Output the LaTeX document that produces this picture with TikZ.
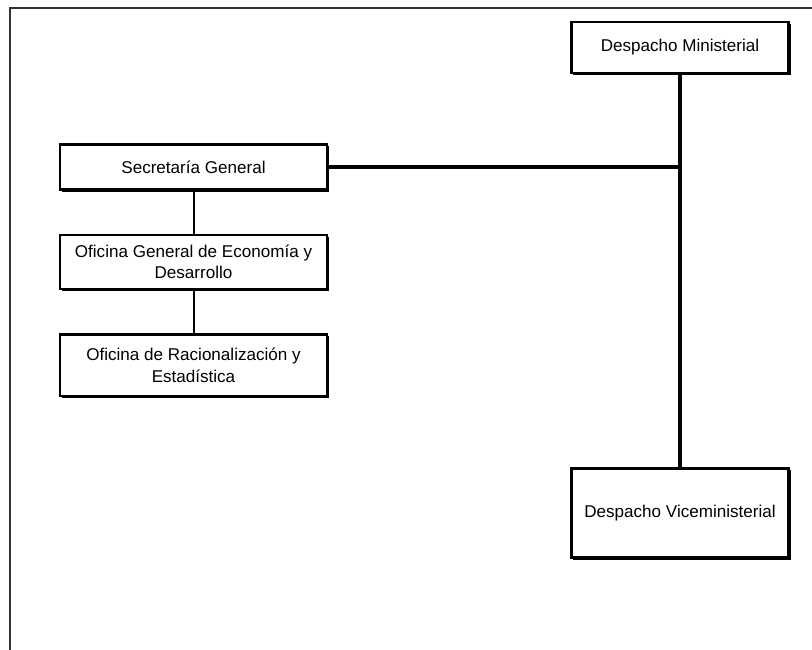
\documentclass[tikz,border=0pt]{standalone}
\usepackage{fontspec}
\setmainfont{Liberation Sans}
\usepackage{xcolor}
\usetikzlibrary{positioning,shadows}
\tikzset{
  orgbox/.style={draw=black, line width=1.8pt, fill=white, align=center, inner sep=2pt,
    font=\fontsize{12.8}{16}\selectfont,
    drop shadow={shadow xshift=1.4pt, shadow yshift=-1.4pt, fill=black, opacity=1}},
  orglink/.style={-, draw=black, line width=1.5pt},
  orgtrunk/.style={-, draw=black, line width=2.3pt},
  framerule/.style={draw=black!80, line width=1.5pt}
}

\begin{document}
\begin{tikzpicture}[x=0.75pt, y=-0.75pt, node distance=34pt]
  \useasboundingbox (0,0) rectangle (812,649);
  \draw[framerule] (10,652) -- (10,8) -- (815,8);

  \node[orgbox, minimum width=163pt, minimum height=38pt] (minister) at (680,47.5) {Despacho Ministerial};
  \node[orgbox, minimum width=163pt, minimum height=67pt] (viceminister) at (680,513) {Despacho Viceministerial};
  \node[orgbox, minimum width=200pt, minimum height=34pt] (secretary) at (193.5,167) {Secretaría General};
  \node[orgbox, minimum width=200pt, minimum height=40.5pt, below=32pt of secretary] (economy) {Oficina General de Economía y\\Desarrollo};
  \node[orgbox, minimum width=200pt, minimum height=46pt, below=32.5pt of economy] (statistics) {Oficina de Racionalización y\\Estadística};
  \coordinate (junction) at (minister.south |- secretary.east);

  \draw[orgtrunk] (minister) -- (viceminister);
  \draw[orgtrunk] (secretary) -- (junction);
  \draw[orglink] (secretary) -- (economy);
  \draw[orglink] (economy) -- (statistics);
\end{tikzpicture}
\end{document}
